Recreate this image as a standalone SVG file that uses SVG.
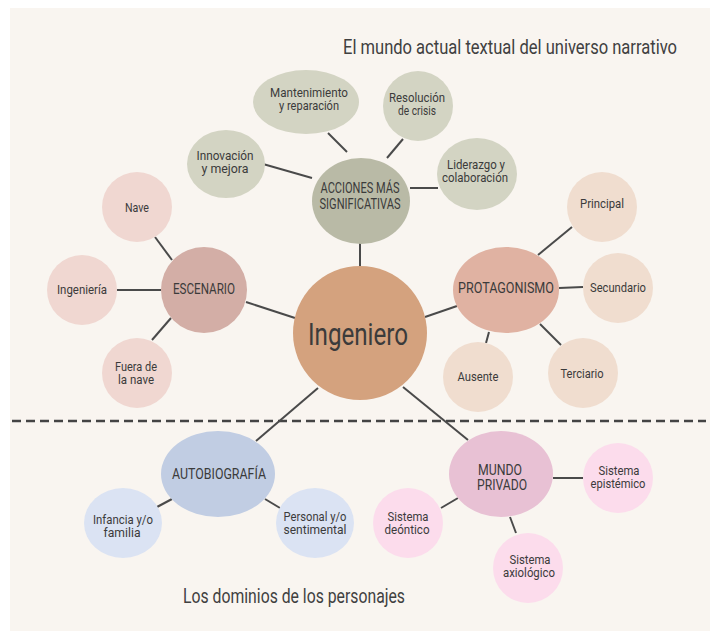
<svg xmlns="http://www.w3.org/2000/svg" width="710" height="631" viewBox="0 0 710 631">
<style>
text{font-family:"Liberation Sans Narrow","Roboto","Liberation Sans",sans-serif;fill:#3b3b3b;text-anchor:middle}
.t{font-size:13px}
.h{font-size:15px}
.title{font-size:20px;text-anchor:start;fill:#404040}
.main{font-size:32px}
.c line{stroke:#4a4a4a;stroke-width:2}
.dash{stroke:#444;stroke-width:2.5;stroke-dasharray:9 5}
.g1{fill:#d3d4c3}.g0{fill:#b9baa6}
.r1{fill:#f0d7d1}.r0{fill:#d3aea6}
.p1{fill:#f0ddcf}.p0{fill:#e0b2a2}
.b1{fill:#dbe3f3}.b0{fill:#c1cde3}
.m1{fill:#fcdcec}.m0{fill:#e8c1d4}
</style>
<rect x="0" y="0" width="710" height="631" fill="#ffffff"/>
<rect x="10" y="8" width="700" height="623" fill="#f9f5f0"/>
<text class="title" x="343" y="54" textLength="334" lengthAdjust="spacingAndGlyphs">El mundo actual textual del universo narrativo</text>
<text class="title" x="183" y="603" textLength="222" lengthAdjust="spacingAndGlyphs">Los dominios de los personajes</text>
<line class="dash" x1="12" y1="421" x2="706" y2="421"/>
<g class="c" id="connectors">
<line x1="263" y1="164" x2="312" y2="178"/>
<line x1="328" y1="133" x2="347" y2="152"/>
<line x1="403" y1="139" x2="387" y2="158"/>
<line x1="410" y1="188" x2="438" y2="188"/>
<line x1="360" y1="243" x2="360" y2="267"/>
<line x1="155" y1="237" x2="172" y2="260"/>
<line x1="117" y1="290" x2="161" y2="290"/>
<line x1="152" y1="340" x2="171" y2="318"/>
<line x1="246" y1="302" x2="295" y2="318"/>
<line x1="425" y1="317" x2="457" y2="306"/>
<line x1="538" y1="255" x2="572" y2="227"/>
<line x1="559" y1="288" x2="583" y2="287"/>
<line x1="489" y1="332" x2="486" y2="343"/>
<line x1="540" y1="324" x2="561" y2="345"/>
<line x1="318" y1="388" x2="256" y2="441"/>
<line x1="157" y1="507" x2="172" y2="499"/>
<line x1="265" y1="499" x2="280" y2="508"/>
<line x1="403" y1="387" x2="468" y2="440"/>
<line x1="553" y1="478" x2="583" y2="478"/>
<line x1="441" y1="508" x2="458" y2="498"/>
<line x1="510" y1="517" x2="516" y2="533"/>
</g>
<g id="ingeniero"><circle cx="360" cy="333" r="67" fill="#d4a27e"/><text class="main" x="358" y="345" textLength="100" lengthAdjust="spacingAndGlyphs">Ingeniero</text></g>
<g id="acciones"><ellipse class="g0" cx="361" cy="201" rx="49" ry="43"/><text class="h" x="360" y="193" textLength="79" lengthAdjust="spacingAndGlyphs">ACCIONES MÁS</text><text class="h" x="360" y="209" textLength="81" lengthAdjust="spacingAndGlyphs">SIGNIFICATIVAS</text></g>
<g id="mantenimiento"><ellipse class="g1" cx="306" cy="102" rx="53" ry="32"/><text class="t" x="309" y="97" textLength="78" lengthAdjust="spacingAndGlyphs">Mantenimiento</text><text class="t" x="309" y="110" textLength="60" lengthAdjust="spacingAndGlyphs">y reparación</text></g>
<g id="resolucion"><circle class="g1" cx="418" cy="106" r="35"/><text class="t" x="417" y="102" textLength="56" lengthAdjust="spacingAndGlyphs">Resolución</text><text class="t" x="417" y="115" textLength="38" lengthAdjust="spacingAndGlyphs">de crisis</text></g>
<g id="innovacion"><ellipse class="g1" cx="226" cy="164" rx="39" ry="34"/><text class="t" x="225" y="160" textLength="57" lengthAdjust="spacingAndGlyphs">Innovación</text><text class="t" x="225" y="173" textLength="47" lengthAdjust="spacingAndGlyphs">y mejora</text></g>
<g id="liderazgo"><ellipse class="g1" cx="477" cy="174" rx="40" ry="36"/><text class="t" x="476" y="169" textLength="58" lengthAdjust="spacingAndGlyphs">Liderazgo y</text><text class="t" x="475" y="182" textLength="66" lengthAdjust="spacingAndGlyphs">colaboración</text></g>
<g id="escenario"><circle class="r0" cx="204" cy="290" r="43"/><text class="h" x="204" y="294" textLength="62" lengthAdjust="spacingAndGlyphs">ESCENARIO</text></g>
<g id="nave"><circle class="r1" cx="137" cy="207" r="35"/><text class="t" x="137" y="212" textLength="24" lengthAdjust="spacingAndGlyphs">Nave</text></g>
<g id="ingenieria"><circle class="r1" cx="82" cy="290" r="35"/><text class="t" x="82" y="294" textLength="50" lengthAdjust="spacingAndGlyphs">Ingeniería</text></g>
<g id="fuera"><circle class="r1" cx="137" cy="373" r="35"/><text class="t" x="136" y="371" textLength="42" lengthAdjust="spacingAndGlyphs">Fuera de</text><text class="t" x="136" y="384" textLength="36" lengthAdjust="spacingAndGlyphs">la nave</text></g>
<g id="protagonismo"><ellipse class="p0" cx="506" cy="290" rx="53" ry="43"/><text class="h" x="506" y="293" textLength="96" lengthAdjust="spacingAndGlyphs">PROTAGONISMO</text></g>
<g id="principal"><circle class="p1" cx="602" cy="207" r="35"/><text class="t" x="602" y="208" textLength="44" lengthAdjust="spacingAndGlyphs">Principal</text></g>
<g id="secundario"><circle class="p1" cx="618" cy="288" r="35"/><text class="t" x="618" y="292" textLength="56" lengthAdjust="spacingAndGlyphs">Secundario</text></g>
<g id="ausente"><circle class="p1" cx="478" cy="377" r="35"/><text class="t" x="478" y="381" textLength="41" lengthAdjust="spacingAndGlyphs">Ausente</text></g>
<g id="terciario"><circle class="p1" cx="583" cy="373" r="35"/><text class="t" x="582" y="378" textLength="43" lengthAdjust="spacingAndGlyphs">Terciario</text></g>
<g id="autobiografia"><ellipse class="b0" cx="218" cy="474" rx="57" ry="43"/><text class="h" x="219" y="479" textLength="94" lengthAdjust="spacingAndGlyphs">AUTOBIOGRAFÍA</text></g>
<g id="infancia"><ellipse class="b1" cx="123" cy="523" rx="39" ry="35"/><text class="t" x="123" y="524" textLength="60" lengthAdjust="spacingAndGlyphs">Infancia y/o</text><text class="t" x="122" y="537" textLength="37" lengthAdjust="spacingAndGlyphs">familia</text></g>
<g id="personal"><ellipse class="b1" cx="315" cy="523" rx="39" ry="35"/><text class="t" x="315" y="521" textLength="63" lengthAdjust="spacingAndGlyphs">Personal y/o</text><text class="t" x="315" y="534" textLength="63" lengthAdjust="spacingAndGlyphs">sentimental</text></g>
<g id="mundo"><ellipse class="m0" cx="501" cy="474" rx="52" ry="43"/><text class="h" x="500" y="475" textLength="44" lengthAdjust="spacingAndGlyphs">MUNDO</text><text class="h" x="502" y="490" textLength="50" lengthAdjust="spacingAndGlyphs">PRIVADO</text></g>
<g id="epistemico"><circle class="m1" cx="618" cy="478" r="35"/><text class="t" x="619" y="475" textLength="41" lengthAdjust="spacingAndGlyphs">Sistema</text><text class="t" x="618" y="488" textLength="55" lengthAdjust="spacingAndGlyphs">epistémico</text></g>
<g id="deontico"><circle class="m1" cx="408" cy="523" r="35"/><text class="t" x="408" y="521" textLength="41" lengthAdjust="spacingAndGlyphs">Sistema</text><text class="t" x="407" y="534" textLength="45" lengthAdjust="spacingAndGlyphs">deóntico</text></g>
<g id="axiologico"><circle class="m1" cx="528" cy="568" r="35"/><text class="t" x="530" y="564" textLength="41" lengthAdjust="spacingAndGlyphs">Sistema</text><text class="t" x="529" y="577" textLength="52" lengthAdjust="spacingAndGlyphs">axiológico</text></g>
</svg>
